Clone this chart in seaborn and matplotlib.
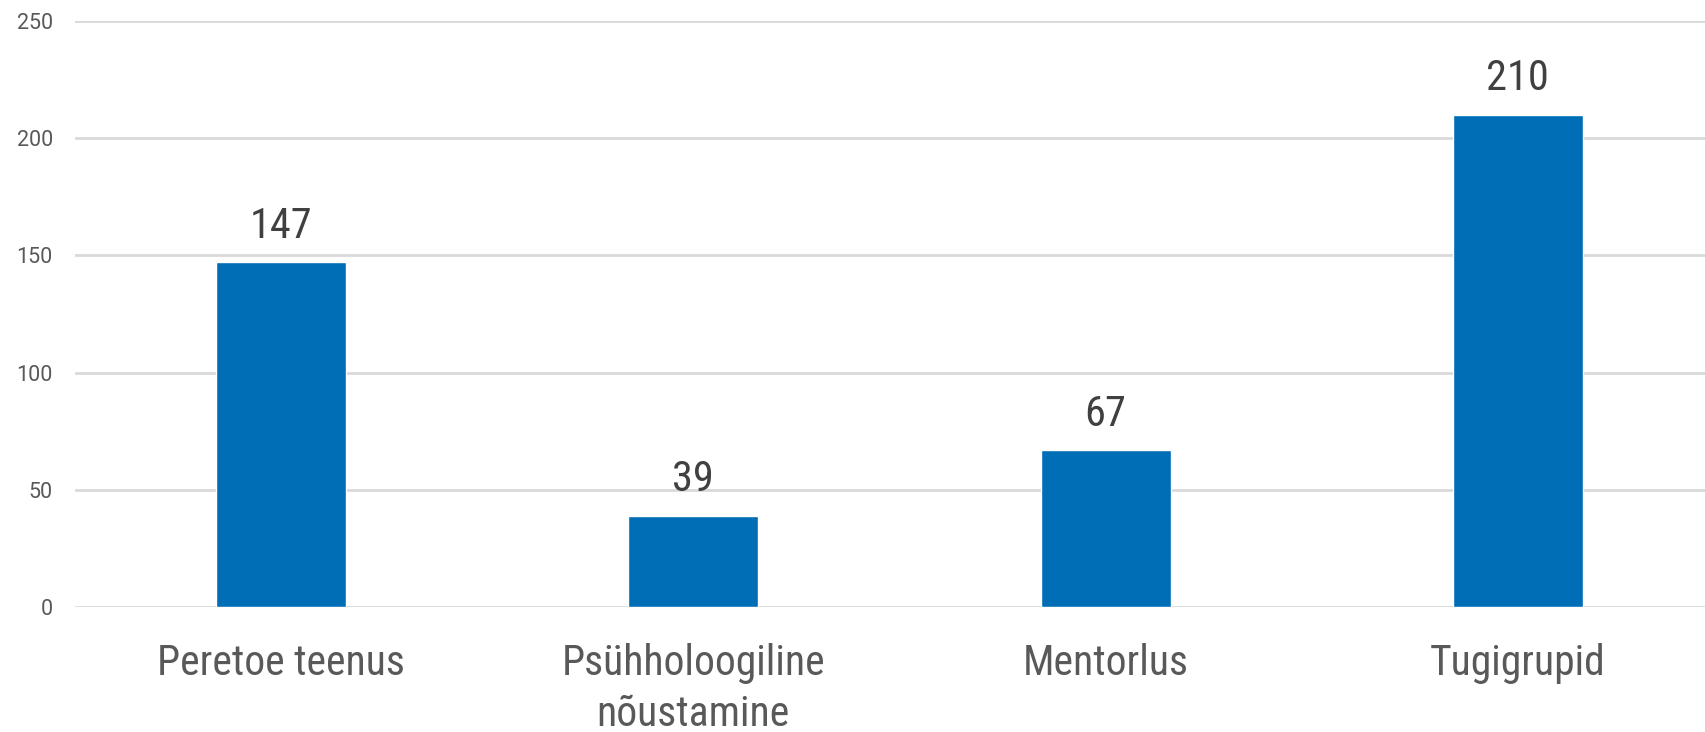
import matplotlib
matplotlib.use('Agg')
import matplotlib.pyplot as plt
from matplotlib import font_manager
import seaborn as sns
import pandas as pd

categories = ['Peretoe teenus', 'Psühholoogiline\nnõustamine', 'Mentorlus', 'Tugigrupid']
values = [147, 39, 67, 210]
yticks = [0, 50, 100, 150, 200, 250]

sns.set_style('white')
names = {f.name for f in font_manager.fontManager.ttflist}
fam = 'Roboto Condensed' if 'Roboto Condensed' in names else 'Roboto'
plt.rcParams['font.family'] = [fam, 'DejaVu Sans']

df = pd.DataFrame({'kategooria': categories, 'arv': values})

fig = plt.figure(figsize=(17.06, 7.32), dpi=100)
# axes runs past the right edge like the cropped original
ax = fig.add_axes([75 / 1706, 1 - 607 / 732, 1649 / 1706, 586 / 732])
sns.barplot(data=df, x='kategooria', y='arv', color='#006EB6', saturation=1,
            width=0.315, ax=ax, zorder=3)

ax.set_ylim(0, 250)
ax.set_xlim(-0.5, 3.5)
ax.set_yticks(yticks)
ax.yaxis.grid(True, color='#D9D9D9', linewidth=2, zorder=0)
ax.set_axisbelow(True)
for s in ax.spines.values():
    s.set_visible(False)
ax.set_xlabel('')
ax.set_ylabel('')
ax.tick_params(axis='y', length=0, pad=16, labelsize=15.5, labelcolor='#595959')
ax.tick_params(axis='x', length=0, pad=26, labelsize=30, labelcolor='#595959')
for lab in ax.get_yticklabels():
    lab.set_family(['Roboto', 'DejaVu Sans'])
for lab in ax.get_xticklabels():
    lab.set_linespacing(1.3)
    lab.set_verticalalignment('top')

for i, v in enumerate(values):
    ax.annotate(str(v), (i, v), xytext=(0, 11), textcoords='offset points',
                ha='center', va='bottom', fontsize=30.5, color='#404040')

fig.savefig('out.png', dpi=100)
plt.close(fig)
